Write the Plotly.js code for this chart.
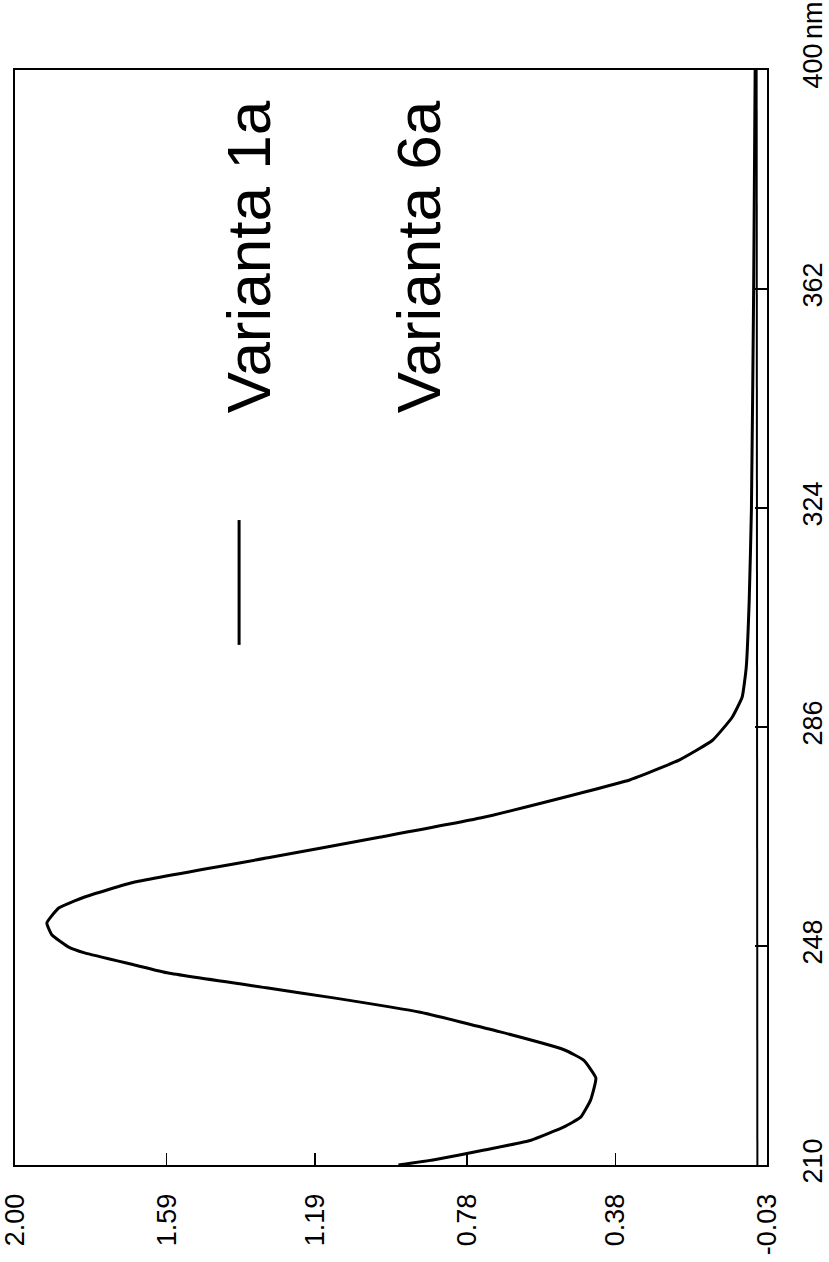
<!DOCTYPE html>
<html>
<head>
<meta charset="utf-8">
<script src="https://cdn.plot.ly/plotly-3.0.1.min.js"></script>
<style>html,body{margin:0;padding:0;background:#fff;}#chart{width:829px;height:1262px;}</style>
</head>
<body>
<div id="chart"></div>
<script>
// Wavelength (nm) and absorbance
const wavelength1a = [210, 210.9, 212.6, 214.3, 216.6, 218.3, 221.3, 225.1, 228.2, 230.0, 233.1, 236.5, 239.0, 240.7, 243.3, 244.7, 246.8, 247.8, 249.9, 252.0, 254.6, 256.5, 259.1, 263.3, 266.9, 270.2, 274.5, 276.8, 280.3, 283.7, 287.7, 291.2, 296.4, 308.0, 324, 362, 400];
const absorbance1a = [0.965, 0.868, 0.733, 0.607, 0.518, 0.473, 0.446, 0.432, 0.465, 0.518, 0.690, 0.906, 1.140, 1.317, 1.586, 1.677, 1.812, 1.855, 1.900, 1.914, 1.882, 1.812, 1.677, 1.317, 1.013, 0.744, 0.475, 0.341, 0.206, 0.117, 0.064, 0.037, 0.026, 0.018, 0.012, 0.006, 0.002];
const wavelength6a = [210, 248, 286, 324, 362, 400];
const absorbance6a = [-0.004, -0.004, -0.003, -0.003, -0.003, -0.002];

const absTickVals = [2.00, 1.59, 1.19, 0.78, 0.38, -0.03];
const absTickText = ["2.00", "1.59", "1.19", "0.78", "0.38", "-0.03"];
const wlTickVals = [210, 248, 286, 324, 362, 400];
const wlTickText = ["210", "248", "286", "324", "362", "400"];
const seriesNames = ["Varianta 1a", "Varianta 6a"];
const unitLabel = "nm";

const FONT = "Liberation Sans, Arial, Helvetica, sans-serif";

const traces = [
  {x: absorbance1a, y: wavelength1a, type: "scatter", mode: "lines", name: seriesNames[0],
   line: {color: "#000", width: 3, shape: "spline", smoothing: 0.4}},
  {x: absorbance6a, y: wavelength6a, type: "scatter", mode: "lines", name: seriesNames[1],
   line: {color: "#000", width: 2}}
];

const layout = {
  width: 829, height: 1262,
  margin: {l: 15, r: 62, t: 70, b: 97},
  paper_bgcolor: "#fff", plot_bgcolor: "#fff",
  showlegend: false,
  font: {family: FONT, color: "#000"},
  xaxis: {
    range: [2.00, -0.03], tickmode: "array", tickvals: absTickVals, ticktext: absTickText,
    tickangle: -90, ticks: "inside", ticklen: 12, tickwidth: 1.2, tickcolor: "#000",
    showline: true, mirror: true, linecolor: "#000", linewidth: 2,
    showgrid: false, zeroline: false, ticklabelstandoff: 16, ticklabeloverflow: "allow",
    tickfont: {family: FONT, size: 27, color: "#000"}
  },
  yaxis: {
    range: [210, 400], side: "right", tickmode: "array", tickvals: wlTickVals, ticktext: wlTickText,
    tickangle: -90, ticks: "inside", ticklen: 12, tickwidth: 1.2, tickcolor: "#000",
    showline: true, mirror: true, linecolor: "#000", linewidth: 2,
    showgrid: false, zeroline: false, ticklabelstandoff: 21, ticklabeloverflow: "allow",
    tickfont: {family: FONT, size: 27, color: "#000"}
  },
  annotations: [
    {text: seriesNames[0], xref: "paper", yref: "paper", x: 0.31, y: 0.829, textangle: -90,
     showarrow: false, xanchor: "center", yanchor: "middle", font: {family: FONT, size: 62, color: "#000"}},
    {text: seriesNames[1], xref: "paper", yref: "paper", x: 0.536, y: 0.829, textangle: -90,
     showarrow: false, xanchor: "center", yanchor: "middle", font: {family: FONT, size: 62, color: "#000"}},
    {text: unitLabel, xref: "paper", yref: "paper", x: 1, y: 1, xshift: 46, yshift: 50, textangle: -90,
     showarrow: false, xanchor: "center", yanchor: "middle", font: {family: FONT, size: 27, color: "#000"}}
  ],
  shapes: [
    {type: "line", xref: "paper", yref: "paper", x0: 0.298, x1: 0.298, y0: 0.475, y1: 0.589,
     line: {color: "#000", width: 3}}
  ]
};

Plotly.newPlot("chart", traces, layout, {displayModeBar: false, staticPlot: true});
</script>
</body>
</html>
